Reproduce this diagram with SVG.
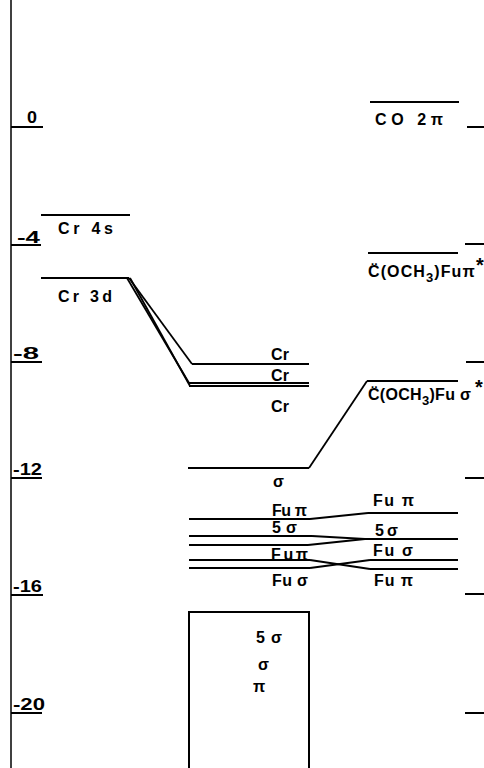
<svg xmlns="http://www.w3.org/2000/svg" width="484" height="768" viewBox="0 0 484 768">
<style>
text{font-family:"Liberation Sans",Arial,sans-serif;font-weight:bold;font-size:16px;fill:#000}
.ax{font-size:17px}
.lv{stroke:#000;stroke-width:2;fill:none}
.tk{stroke:#000;stroke-width:2}
.cn{stroke:#000;stroke-width:1.8;fill:none}
.st{font-size:20px}
</style>
<rect width="484" height="768" fill="#fff"/>
<g id="axis-left">
<line x1="11" y1="0" x2="11" y2="768" stroke="#000" stroke-width="1.5"/>
<line class="tk" x1="11" y1="127" x2="43" y2="127"/>
<line class="tk" x1="11" y1="245" x2="41" y2="245"/>
<line class="tk" x1="11" y1="362" x2="42" y2="362"/>
<line class="tk" x1="11" y1="478" x2="42" y2="478"/>
<line class="tk" x1="11" y1="595" x2="43" y2="595"/>
<line class="tk" x1="11" y1="713" x2="42" y2="713"/>
<text class="ax" x="27" y="123" textLength="10" lengthAdjust="spacingAndGlyphs">0</text>
<text class="ax" x="17" y="243" textLength="23" lengthAdjust="spacingAndGlyphs">-4</text>
<text class="ax" x="13" y="359" textLength="26" lengthAdjust="spacingAndGlyphs">-8</text>
<text class="ax" x="13" y="475" textLength="29" lengthAdjust="spacingAndGlyphs">-12</text>
<text class="ax" x="13" y="592" textLength="29" lengthAdjust="spacingAndGlyphs">-16</text>
<text class="ax" x="13" y="710" textLength="32" lengthAdjust="spacingAndGlyphs">-20</text>
</g>
<g id="axis-right">
<line class="tk" x1="467" y1="127" x2="484" y2="127"/>
<line class="tk" x1="465" y1="244" x2="484" y2="244"/>
<line class="tk" x1="466" y1="362" x2="484" y2="362"/>
<line class="tk" x1="465" y1="478" x2="484" y2="478"/>
<line class="tk" x1="465" y1="594" x2="484" y2="594"/>
<line class="tk" x1="465" y1="713" x2="484" y2="713"/>
</g>
<g id="cr4s">
<line class="lv" x1="41" y1="215" x2="130" y2="215"/>
<text x="58" y="234" textLength="55" lengthAdjust="spacing">Cr 4s</text>
</g>
<g id="cr3d">
<line class="lv" x1="41" y1="278" x2="129" y2="278"/>
<text x="58" y="302" textLength="54" lengthAdjust="spacing">Cr 3d</text>
</g>
<g id="cr-a">
<line class="lv" x1="192" y1="364" x2="309" y2="364"/>
<text x="271" y="360" textLength="18" lengthAdjust="spacing">Cr</text>
</g>
<g id="cr-b">
<line class="lv" x1="189" y1="383" x2="309" y2="383"/>
<line class="lv" x1="189" y1="386" x2="309" y2="386"/>
<text x="271" y="381" textLength="18" lengthAdjust="spacing">Cr</text>
</g>
<g id="cr-c">
<text x="271" y="412" textLength="18" lengthAdjust="spacing">Cr</text>
</g>
<g id="sigma">
<line class="lv" x1="188" y1="468" x2="309" y2="468"/>
<text x="273" y="487">σ</text>
</g>
<g id="fupi-l1">
<line class="lv" x1="189" y1="519" x2="310" y2="519"/>
<text x="272" y="516" textLength="35" lengthAdjust="spacing">Fu π</text>
</g>
<g id="5sigma-l">
<line class="lv" x1="189" y1="536" x2="312" y2="536"/>
<text x="272" y="533" textLength="25" lengthAdjust="spacing">5σ</text>
</g>
<g id="x-l">
<line class="lv" x1="189" y1="545" x2="308" y2="545"/>
</g>
<g id="fupi-l2">
<line class="lv" x1="189" y1="560" x2="310" y2="560"/>
<text x="271" y="560" textLength="37" lengthAdjust="spacing">Fuπ</text>
</g>
<g id="fusigma-l">
<line class="lv" x1="189" y1="568" x2="310" y2="568"/>
<text x="272" y="586" textLength="36" lengthAdjust="spacing">Fu σ</text>
</g>
<g id="box">
<path class="lv" d="M189 768 V612 H309 V768"/>
<text x="256" y="643" textLength="26" lengthAdjust="spacing">5 σ</text>
<text x="258" y="670">σ</text>
<text x="253" y="692">π</text>
</g>
<g id="co2pi">
<line class="lv" x1="370" y1="102" x2="459" y2="102"/>
<text x="375" y="125" textLength="68" lengthAdjust="spacing">CO 2π</text>
</g>
<g id="carbene-pi">
<line class="lv" x1="368" y1="253" x2="458" y2="253"/>
<text x="368" y="277" letter-spacing="1.1">C̈(OCH<tspan dy="5" font-size="13">3</tspan><tspan dy="-5">)Fuπ</tspan></text>
<text class="st" x="476" y="272">*</text>
</g>
<g id="carbene-sigma">
<line class="lv" x1="367" y1="381" x2="458" y2="381"/>
<text x="368" y="400" letter-spacing="0.3">C̈(OCH<tspan dy="5" font-size="13">3</tspan><tspan dy="-5">)Fu σ</tspan></text>
<text class="st" x="475" y="394">*</text>
</g>
<g id="fupi-r1">
<line class="lv" x1="368" y1="513" x2="458" y2="513"/>
<text x="373" y="506" textLength="41" lengthAdjust="spacing">Fu π</text>
</g>
<g id="5sigma-r">
<line class="lv" x1="362" y1="539" x2="458" y2="539"/>
<text x="375" y="536" textLength="23" lengthAdjust="spacing">5σ</text>
</g>
<g id="fusigma-r">
<line class="lv" x1="370" y1="560" x2="458" y2="560"/>
<text x="373" y="556" textLength="40" lengthAdjust="spacing">Fu σ</text>
</g>
<g id="fupi-r2">
<line class="lv" x1="370" y1="569" x2="458" y2="569"/>
<text x="374" y="586" textLength="39" lengthAdjust="spacing">Fu π</text>
</g>
<g id="connectors">
<line class="cn" x1="129" y1="278" x2="192" y2="364"/>
<line class="cn" x1="127" y1="278" x2="189" y2="383"/>
<line class="cn" x1="130" y1="278" x2="190" y2="386"/>
<line class="cn" x1="309" y1="468" x2="367" y2="381"/>
<line class="cn" x1="310" y1="519" x2="368" y2="513"/>
<line class="cn" x1="312" y1="536" x2="365" y2="539"/>
<line class="cn" x1="308" y1="545" x2="365" y2="539"/>
<line class="cn" x1="310" y1="560" x2="370" y2="569"/>
<line class="cn" x1="310" y1="568" x2="370" y2="560"/>
</g>
</svg>
